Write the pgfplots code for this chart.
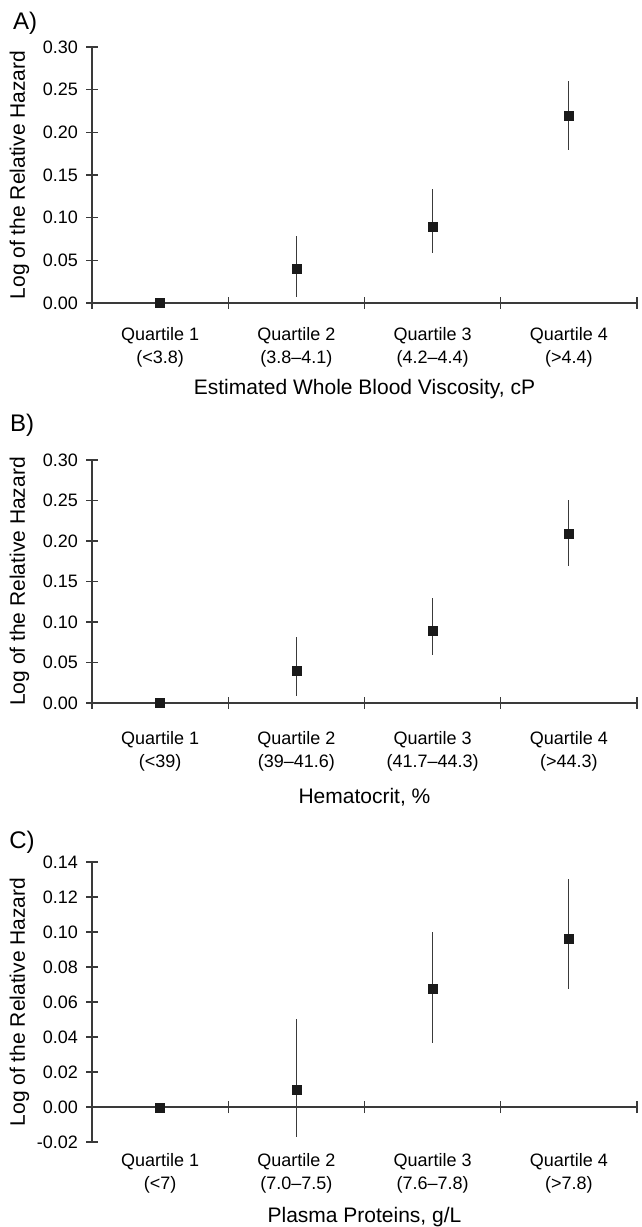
\documentclass[border=0pt]{standalone}
\usepackage{fontspec}
\setmainfont{Liberation Sans}
\usepackage{pgfplots}
\pgfplotsset{compat=1.18}
\definecolor{axgray}{HTML}{3A3A3A}
\definecolor{mk}{HTML}{1A1A1A}
\pgfplotsset{
  panel/.style={
    scale only axis, width=545pt, xmin=-0.5, xmax=3.5,
    clip=false,
    axis y line=left, axis x line=bottom,
    axis line style={axgray, line width=1.1pt, -},
    tick align=center,
    major tick length=11pt, minor tick length=12pt,
    every major x tick/.style={draw=none},
    every minor x tick/.style={draw=axgray, line width=1.1pt},
    every major y tick/.style={draw=axgray, line width=1.1pt},
    hide obscured x ticks=false, hide obscured y ticks=false,
    xtick={0,1,2,3},
    minor xtick={-0.5,0.5,1.5,2.5,3.5},
    xticklabel style={align=center, anchor=center, font=\fontsize{18}{23}\selectfont},
    yticklabel style={font=\fontsize{18}{21}\selectfont, xshift=-5pt},
    scaled y ticks=false,
    /pgf/number format/.cd, fixed, fixed zerofill, precision=2, assume math mode=true,
    /pgfplots/.cd,
    ylabel={Log of the Relative Hazard},
    ylabel style={at={(axis description cs:-0.133,0.5)}, anchor=center, font=\fontsize{21}{25}\selectfont},
  },
  xlab/.style={xlabel style={at={(axis description cs:0.5,0)}, anchor=center, rotate=0, font=\fontsize{21}{25}\selectfont, yshift=#1}},
  pts/.style={only marks, mark=square*, mark size=4.5pt,
    mark options={draw=mk, fill=mk},
    error bars/.cd, y dir=both, y explicit,
    error bar style={axgray, line width=1pt}, error mark=none}
}
\begin{document}
\begin{tikzpicture}
\useasboundingbox (0,0) rectangle (641pt,1227pt);
% Panel A
\begin{axis}[panel, at={(92pt,924pt)}, anchor=south west, height=256pt,
  ymin=0, ymax=0.30, ytick={0,0.05,...,0.31},
  xticklabels={{Quartile 1\\(<3.8)},{Quartile 2\\(3.8–4.1)},{Quartile 3\\(4.2–4.4)},{Quartile 4\\(>4.4)}},
  xticklabel style={yshift=-39pt},
  xlabel={Estimated Whole Blood Viscosity, cP},
  xlab=-86pt]
\addplot[pts] coordinates {
  (0,0)
  (1,0.040) += (0,0.039) -= (0,0.033)
  (2,0.089) += (0,0.044) -= (0,0.030)
  (3,0.220) += (0,0.040) -= (0,0.041)
};
\end{axis}
% Panel B
\begin{axis}[panel, at={(92pt,524pt)}, anchor=south west, height=243pt,
  ymin=0, ymax=0.30, ytick={0,0.05,...,0.31},
  xticklabels={{Quartile 1\\(<39)},{Quartile 2\\(39–41.6)},{Quartile 3\\(41.7–44.3)},{Quartile 4\\(>44.3)}},
  xticklabel style={yshift=-43pt},
  xlabel={Hematocrit, \%},
  xlab=-94pt]
\addplot[pts] coordinates {
  (0,0)
  (1,0.040) += (0,0.041) -= (0,0.031)
  (2,0.089) += (0,0.041) -= (0,0.030)
  (3,0.209) += (0,0.042) -= (0,0.040)
};
\end{axis}
% Panel C
\begin{axis}[panel, at={(92pt,85pt)}, anchor=south west, height=280pt,
  axis x line=middle, axis line style={-},
  ymin=-0.02, ymax=0.14, ytick={-0.02,0,0.02,0.04,0.06,0.08,0.10,0.12,0.14},
  xticklabels={{Quartile 1\\(<7)},{Quartile 2\\(7.0–7.5)},{Quartile 3\\(7.6–7.8)},{Quartile 4\\(>7.8)}},
  xticklabel style={yshift=-61pt},
  xlabel={Plasma Proteins, g/L},
  xlab=-75pt]
\addplot[pts] coordinates {
  (0,-0.0006)
  (1,0.010) += (0,0.040) -= (0,0.027)
  (2,0.0675) += (0,0.0325) -= (0,0.031)
  (3,0.096) += (0,0.0345) -= (0,0.0285)
};
\end{axis}
\node[font=\fontsize{24}{28}\selectfont] at (25pt,1204pt) {A)};
\node[font=\fontsize{24}{28}\selectfont] at (22pt,802pt) {B)};
\node[font=\fontsize{24}{28}\selectfont] at (22pt,385pt) {C)};
\end{tikzpicture}
\end{document}
